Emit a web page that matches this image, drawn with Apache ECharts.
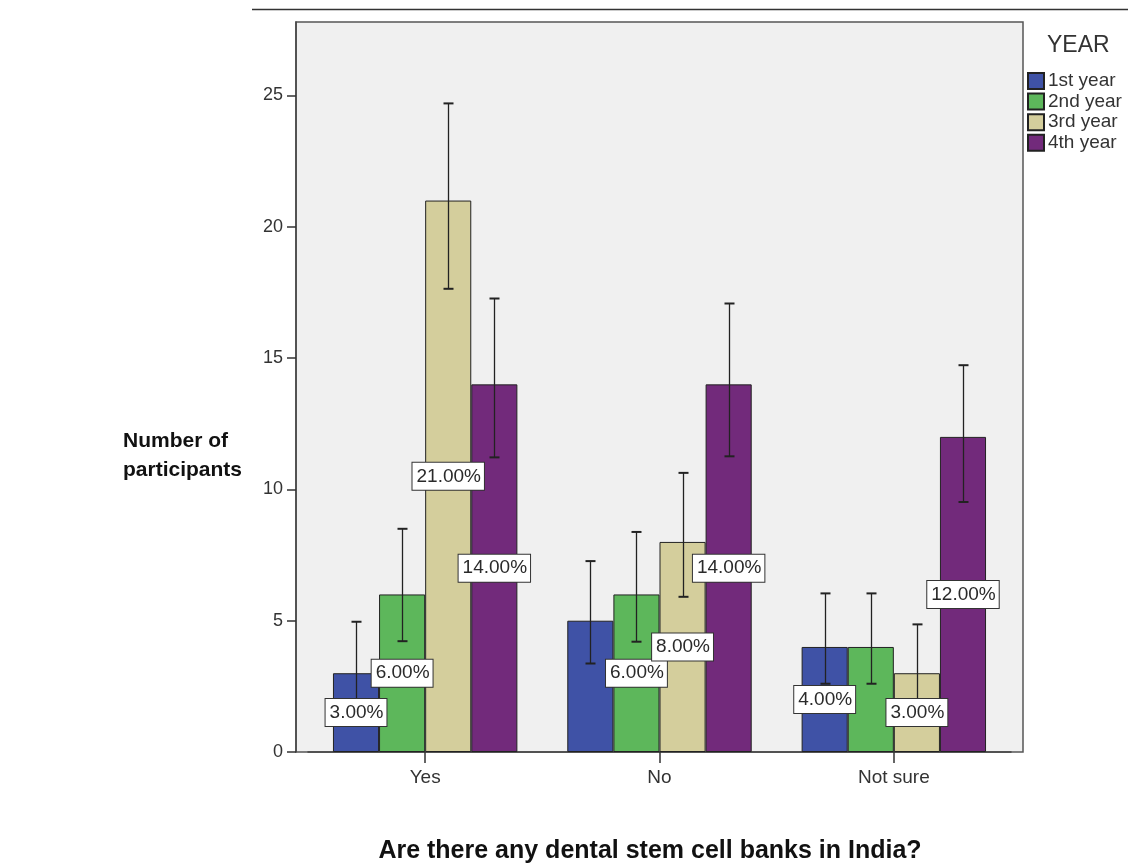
<!DOCTYPE html>
<html>
<head>
<meta charset="utf-8">
<script src="https://cdn.jsdelivr.net/npm/echarts@6/dist/echarts.min.js"></script>
<style>html,body{margin:0;padding:0;background:#fff;}#c{width:1128px;height:866px;}</style>
</head>
<body>
<div id="c"></div>
<script>
// ---- data ----
var categories = ['Yes', 'No', 'Not sure'];
var years = ['1st year', '2nd year', '3rd year', '4th year'];
var counts1 = [3, 5, 4];
var counts2 = [6, 6, 4];
var counts3 = [21, 8, 3];
var counts4 = [14, 14, 12];
var low1 = [1.8, 3.37, 2.6];
var high1 = [4.96, 7.27, 6.04];
var low2 = [4.22, 4.2, 2.6];
var high2 = [8.5, 8.38, 6.04];
var low3 = [17.64, 5.91, 1.79];
var high3 = [24.7, 10.63, 4.86];
var low4 = [11.22, 11.26, 9.52];
var high4 = [17.27, 17.08, 14.73];
// labels that are not shown in the reference (per year, per category)
var labelShown1 = [true, false, true];
var labelShown2 = [true, true, false];
var labelShown3 = [true, true, true];
var labelShown4 = [true, true, true];
var yTicks = [0, 5, 10, 15, 20, 25];

var counts = [counts1, counts2, counts3, counts4];
var lows = [low1, low2, low3, low4];
var highs = [high1, high2, high3, high4];
var shown = [labelShown1, labelShown2, labelShown3, labelShown4];
var colors = ['#3f52a6', '#5db75b', '#d4ce9c', '#722a7b'];
var GAP = 0.213;
var FONT = '"Liberation Sans", Arial, Helvetica, sans-serif';

var chart = echarts.init(document.getElementById('c'), null, {renderer: 'canvas'});

var series = [];
// bars
years.forEach(function (y, si) {
  series.push({
    type: 'bar', name: y, xAxisIndex: 0, yAxisIndex: 0, z: 2,
    barGap: '0%', barCategoryGap: (GAP * 100) + '%',
    itemStyle: {color: colors[si], borderColor: '#222', borderWidth: 1},
    data: counts[si]
  });
});
// error bars
years.forEach(function (y, si) {
  series.push({
    type: 'custom', xAxisIndex: 0, yAxisIndex: 0, z: 5,
    data: categories.map(function (c, i) { return [i, lows[si][i], highs[si][i]]; }),
    encode: {x: 0, y: [1, 2]},
    renderItem: function (params, api) {
      var ci = api.value(0);
      var p0 = api.coord([ci, api.value(1)]);
      var p1 = api.coord([ci, api.value(2)]);
      var band = api.size([1, 0])[0];
      var used = band * (1 - GAP);
      var bw = used / 4;
      var x = Math.round(p0[0] - used / 2 + (si + 0.5) * bw) + 0.5;
      var st = {stroke: '#222', lineWidth: 1.3};
      return {type: 'group', children: [
        {type: 'line', shape: {x1: x, y1: p0[1], x2: x, y2: p1[1]}, style: st},
        {type: 'line', shape: {x1: x - 5, y1: p0[1], x2: x + 5, y2: p0[1]}, style: {stroke: '#222', lineWidth: 2}},
        {type: 'line', shape: {x1: x - 5, y1: p1[1], x2: x + 5, y2: p1[1]}, style: {stroke: '#222', lineWidth: 2}}
      ]};
    }
  });
});
// overlay bars carrying labels (on top of error bars)
years.forEach(function (y, si) {
  series.push({
    type: 'bar', xAxisIndex: 1, yAxisIndex: 0, z: 10,
    barGap: '0%', barCategoryGap: (GAP * 100) + '%',
    itemStyle: {color: 'rgba(0,0,0,0)'},
    data: counts[si].map(function (v, i) {
      return {value: v, label: {show: shown[si][i]}};
    }),
    label: {
      show: true, position: 'inside',
      formatter: function (p) { return p.value.toFixed(2) + '%'; },
      color: '#2a2a2a', fontFamily: FONT, fontSize: 19,
      backgroundColor: '#ffffff', borderColor: '#333', borderWidth: 1,
      padding: [4, 3, 3, 4], lineHeight: 20
    }
  });
});

var option = {
  animation: false,
  backgroundColor: '#ffffff',
  textStyle: {fontFamily: FONT},
  grid: {left: 308, top: 22, width: 703, height: 730, containLabel: false},
  xAxis: [{
    type: 'category', data: categories, gridIndex: 0,
    axisLine: {show: true, lineStyle: {color: '#444', width: 1.5}},
    axisTick: {show: true, alignWithLabel: true, length: 11, lineStyle: {color: '#333', width: 1.5}},
    axisLabel: {color: '#333', fontSize: 19, margin: 16, fontFamily: FONT},
    splitLine: {show: false}
  }, {
    type: 'category', data: categories, gridIndex: 0, show: false
  }],
  yAxis: [{
    type: 'value', min: 0, max: 27.8, interval: 5, offset: 12,
    axisLine: {show: true, lineStyle: {color: '#444', width: 1.5}},
    axisTick: {show: true, length: 9, customValues: yTicks, lineStyle: {color: '#333', width: 1.5}},
    axisLabel: {color: '#333', fontSize: 18, margin: 13, customValues: yTicks, fontFamily: FONT},
    splitLine: {show: false}
  }],
  legend: {
    data: years, orient: 'vertical', left: 1027, top: 71.5, padding: 0,
    itemWidth: 16, itemHeight: 16, itemGap: 1.6, icon: 'rect',
    textStyle: {color: '#333', fontSize: 19, lineHeight: 16, fontFamily: FONT, padding: [0, 0, 0, -1]},
    selectedMode: false
  },
  graphic: [
    {type: 'rect', z: -10, shape: {x: 296, y: 22, width: 727, height: 730},
      style: {fill: '#f0f0f0', stroke: '#555', lineWidth: 1.5}},
    {type: 'line', shape: {x1: 252, y1: 9.5, x2: 1128, y2: 9.5}, style: {stroke: '#333', lineWidth: 1.5}},
    {type: 'text', x: 1047, y: 46, style: {text: 'YEAR', fill: '#333', font: '23px ' + FONT, textVerticalAlign: 'middle'}},
    {type: 'text', x: 123, y: 441, style: {text: 'Number of', fill: '#111', font: 'bold 21px ' + FONT, textVerticalAlign: 'middle'}},
    {type: 'text', x: 123, y: 470, style: {text: 'participants', fill: '#111', font: 'bold 21px ' + FONT, textVerticalAlign: 'middle'}},
    {type: 'text', x: 650, y: 851, style: {text: 'Are there any dental stem cell banks in India?', fill: '#111', font: 'bold 25px ' + FONT, textAlign: 'center', textVerticalAlign: 'middle'}}
  ],
  series: series
};
chart.setOption(option);
</script>
</body>
</html>
